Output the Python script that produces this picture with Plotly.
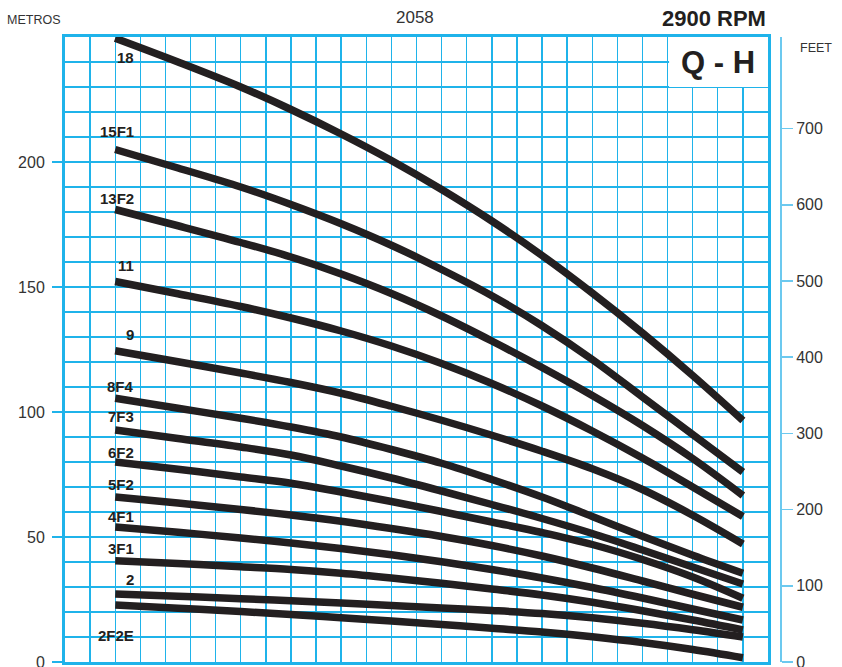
import plotly.graph_objects as go

# flow positions (grid cells, no labelled scale)
flow = [2, 4.5, 7, 9, 11, 13, 15, 17, 19, 21, 23, 25, 27]

names = ["18", "15F1", "13F2", "11", "9", "8F4", "7F3", "6F2", "5F2", "4F1", "3F1", "2", "2F2E"]

h_18 = [249.5, 240, 230, 221, 211.2, 200.6, 189, 176.4, 162.6, 147.6, 131.6, 114.6, 96.6]
h_15F1 = [205, 197.6, 190, 183, 175.3, 166.7, 157, 146.5, 134.5, 121, 106, 91, 76]
h_13F2 = [181, 174.5, 167.8, 162, 155.2, 147.4, 138.4, 128.4, 117.8, 106.6, 94.6, 81.4, 66.6]
h_11 = [152.2, 147.3, 142.2, 137.6, 132.4, 126.4, 119.4, 111.4, 102.4, 92.4, 81.6, 70, 58.2]
h_9 = [124.5, 120.1, 115.6, 111.8, 107.5, 102.3, 96.7, 90.7, 84.3, 77.3, 69, 58.7, 47.2]
h_8F4 = [105.5, 101.5, 97.5, 94, 90, 85, 79.5, 73, 66, 58.2, 50.3, 42.7, 35.5]
h_7F3 = [92.8, 89.4, 86, 82.8, 78.4, 73.6, 68.4, 63, 57.4, 51.4, 44.8, 38, 31.2]
h_6F2 = [80, 77.1, 74, 71.5, 68, 64.2, 60.2, 56, 51.8, 47, 41, 34, 25.5]
h_5F2 = [66, 63.6, 61, 58.8, 56.3, 53.4, 50.2, 46.6, 42.4, 37.6, 32.4, 27.1, 21.9]
h_4F1 = [54, 51.9, 49.6, 47.6, 45.4, 42.9, 40.1, 37, 33.6, 29.8, 25.6, 21.2, 16.8]
h_3F1 = [40.5, 39.4, 38.1, 37, 35.5, 33.6, 31.5, 29.2, 26.8, 23.9, 20.5, 16.8, 12.8]
h_2 = [27.2, 26.3, 25.3, 24.5, 23.6, 22.6, 21.6, 20.6, 19.4, 17.7, 15.5, 12.9, 10]
h_2F2E = [22.8, 21.55, 20.2, 19, 17.7, 16.4, 15, 13.5, 12, 10.1, 7.8, 5, 1.7]

series = [h_18, h_15F1, h_13F2, h_11, h_9, h_8F4, h_7F3, h_6F2, h_5F2, h_4F1, h_3F1, h_2, h_2F2E]
label_y = [242, 212.4, 185.5, 158.8, 131.2, 110.4, 98.4, 83.7, 71.2, 58.4, 45.5, 33.2, 10.8]

metre_ticks = [0, 50, 100, 150, 200]
feet_ticks = [0, 100, 200, 300, 400, 500, 600, 700]

CYAN = "#1fb3ea"
LIGHT = "#6cc9ef"
INK = "#231f20"
TXT = "#333333"

fig = go.Figure()
for nm, ys in zip(names, series):
    fig.add_trace(go.Scatter(x=flow, y=ys, mode="lines", name=nm,
                             line=dict(color=INK, width=7.5, shape="spline", smoothing=1.0),
                             hoverinfo="skip", showlegend=False))

# dummy trace for feet axis
fig.add_trace(go.Scatter(x=[None], y=[None], yaxis="y2", showlegend=False))

for nm, ly in zip(names, label_y):
    fig.add_annotation(x=2.83, y=ly, text=nm, showarrow=False, xanchor="right",
                       yanchor="middle",
                       font=dict(family="Arial", size=15, color=INK, weight="bold"))

W, H = 842, 667
L, R, T, B = 65, 768, 37, 662
axis_x = 781

fig.update_layout(
    width=W, height=H, autosize=False,
    margin=dict(l=L, r=W - axis_x, t=T, b=H - B, autoexpand=False),
    paper_bgcolor="white", plot_bgcolor="white",
    font=dict(family="Arial", color=TXT, size=16),
    xaxis=dict(domain=[0, (R - L) / (axis_x - L)], range=[0, 28], dtick=1, tick0=0,
               showgrid=True, gridcolor=CYAN, gridwidth=1.4, showticklabels=False,
               ticks="", zeroline=False, showline=True, linecolor=CYAN, linewidth=3,
               mirror=True, fixedrange=True, automargin=False),
    yaxis=dict(range=[0, 250], tickvals=metre_ticks, showgrid=True, gridcolor=CYAN,
               gridwidth=1.4, ticks="outside", ticklen=10, tickwidth=1.5, tickcolor=CYAN,
               minor=dict(dtick=10, tick0=0, showgrid=True, gridcolor=CYAN, gridwidth=1.4, ticks=""),
               zeroline=False, showline=True, linecolor=CYAN, linewidth=3, mirror=True,
               tickfont=dict(size=16, color=TXT), ticklabelstandoff=4,
               ticklabeloverflow="allow", fixedrange=True, automargin=False),
    yaxis2=dict(range=[0, 250 / 0.3048], tickvals=feet_ticks, overlaying="y",
                anchor="free", position=1.0, side="right", showgrid=False, zeroline=False,
                showline=True, linecolor=LIGHT, linewidth=2, ticks="outside", ticklen=11,
                tickwidth=1.5, tickcolor=LIGHT, tickfont=dict(size=16, color=TXT),
                ticklabeloverflow="allow", fixedrange=True, automargin=False),
)

# blank box for the Q - H label
fig.add_shape(type="rect", x0=24.06, x1=28, y0=230, y1=250, fillcolor="white",
              line=dict(width=0), layer="between")

fig.add_annotation(text="Q - H", x=26, y=240, xref="x", yref="y", showarrow=False,
                   font=dict(family="Arial", size=31, color=INK, weight="bold"))
fig.add_annotation(text="2058", x=(415 - L) / (axis_x - L), y=1, yref="paper", xref="paper",
                   yanchor="middle", yshift=20, showarrow=False,
                   font=dict(family="Arial", size=17, color=TXT))
fig.add_annotation(text="2900 RPM", x=(R - L) / (axis_x - L), y=1, xref="paper", yref="paper",
                   xanchor="right", yanchor="middle", yshift=19, showarrow=False,
                   font=dict(family="Arial", size=22, color=INK, weight="bold"))
fig.add_annotation(text="METROS", x=0, y=1, xref="paper", yref="paper", xanchor="right",
                   yanchor="middle", xshift=-3, yshift=17, showarrow=False,
                   font=dict(family="Arial", size=12.5, color=TXT))
fig.add_annotation(text="FEET", x=1, y=1, xref="paper", yref="paper", xanchor="left",
                   yanchor="middle", xshift=17, yshift=-11, showarrow=False,
                   font=dict(family="Arial", size=12.5, color=TXT))

fig.write_html("out.html", config={"displayModeBar": False, "staticPlot": True},
               post_script="document.body.style.margin='0';document.body.style.overflow='hidden';")
